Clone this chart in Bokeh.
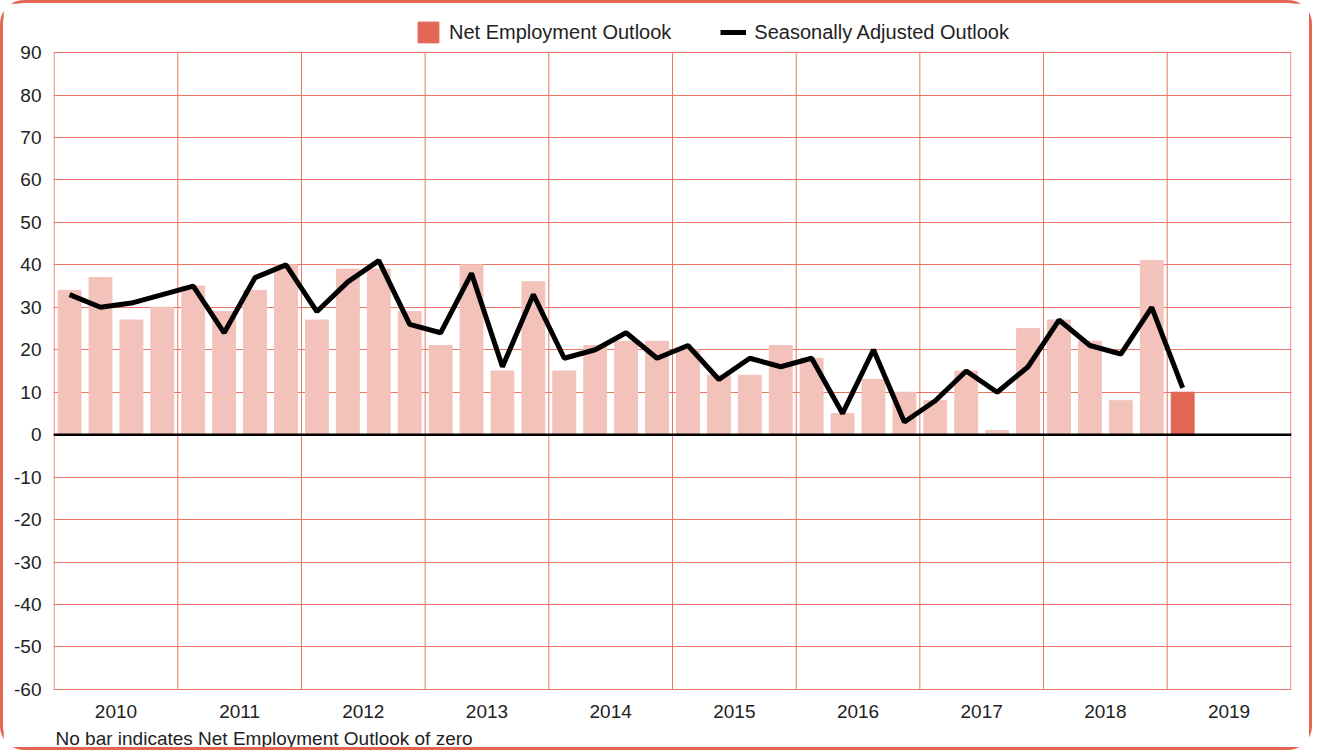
from bokeh.plotting import figure
from bokeh.models import (ColumnDataSource, FixedTicker, Legend, LegendItem, Span, Title,
                          Range1d)
from bokeh.embed import file_html
from bokeh.resources import INLINE

years = ["2010", "2011", "2012", "2013", "2014", "2015", "2016", "2017", "2018", "2019"]
quarters = [f"{y} Q{q}" for y in years for q in range(1, 5)][:37]

net_outlook = [34, 37, 27, 30,
               35, 29, 34, 40,
               27, 39, 39, 29,
               21, 40, 15, 36,
               15, 21, 22, 22,
               20, 14, 14, 21,
               18, 5, 13, 10,
               8, 15, 1, 25,
               27, 22, 8, 41,
               10]
seasonally_adjusted = [33, 30, 31, 33,
                       35, 24, 37, 40,
                       29, 36, 41, 26,
                       24, 38, 16, 33,
                       18, 20, 24, 18,
                       21, 13, 18, 16,
                       18, 5, 20, 3,
                       8, 15, 10, 16,
                       27, 21, 19, 30,
                       11]
y_ticks = list(range(-60, 100, 10))
y_min, y_max = -60, 90

GRID = "#EC7563"
LIGHT = "#F2C2BB"
DARK = "#E16654"
FONT = "Liberation Sans"
TXT = "#222222"
FS = "19px"

# layout (pixels)
plot_px = 636            # height of the -60..90 area
legend_px = 38           # extra space above 90 for the legend
px_per_unit = plot_px / (y_max - y_min)
n_slots = 4 * len(years)

xpos = [i + 0.5 for i in range(len(quarters))]
n_hist = len(quarters) - 1
year_edges = [4 * i for i in range(len(years) + 1)]

src_hist = ColumnDataSource(dict(x=xpos[:n_hist], top=net_outlook[:n_hist]))
src_last = ColumnDataSource(dict(x=xpos[n_hist:], top=net_outlook[n_hist:]))
src_line = ColumnDataSource(dict(x=xpos, y=seasonally_adjusted))
src_vgrid = ColumnDataSource(dict(x=year_edges, y0=[y_min] * len(year_edges),
                                  y1=[y_max] * len(year_edges)))

p = figure(width=1312, height=750, output_backend="svg", toolbar_location=None,
           x_range=Range1d(-0.02, n_slots + 0.02),
           y_range=Range1d(y_min - 0.25, y_max + legend_px / px_per_unit),
           min_border_left=50, min_border_right=24, min_border_top=11, min_border_bottom=52)
p.styles = {"border": "3px solid #E36651", "border-radius": "24px", "box-sizing": "border-box"}
p.outline_line_color = None

# vertical year separators limited to the -60..90 band
p.segment(x0="x", y0="y0", x1="x", y1="y1", source=src_vgrid, line_color=GRID, line_width=1)

p.vbar(x="x", top="top", bottom=0, width=0.74, source=src_hist, color=LIGHT)
r_last = p.vbar(x="x", top="top", bottom=0, width=0.74, source=src_last, color=DARK)
r_line = p.line(x="x", y="y", source=src_line, line_color="black", line_width=5)

p.add_layout(Span(location=0, dimension="width", line_color="black", line_width=2.5))

# axes
p.xaxis.ticker = FixedTicker(ticks=[4 * i + 2 for i in range(len(years))])
p.xaxis.major_label_overrides = {4 * i + 2: y for i, y in enumerate(years)}
p.yaxis.ticker = FixedTicker(ticks=y_ticks)
p.yaxis.major_label_overrides = {t: str(t) for t in y_ticks}
for ax in (p.xaxis[0], p.yaxis[0]):
    ax.axis_line_color = None
    ax.major_tick_line_color = None
    ax.minor_tick_line_color = None
    ax.major_label_text_font = FONT
    ax.major_label_text_font_size = FS
    ax.major_label_text_color = TXT
p.xaxis.major_label_standoff = 8
p.yaxis.major_tick_out = 0
p.yaxis.major_label_standoff = 12

# grids
p.xgrid.grid_line_color = None
p.ygrid.ticker = FixedTicker(ticks=y_ticks)
p.ygrid.grid_line_color = GRID
p.ygrid.grid_line_width = 1

legend = Legend(items=[LegendItem(label="Net Employment Outlook", renderers=[r_last]),
                       LegendItem(label="Seasonally Adjusted Outlook", renderers=[r_line])],
                orientation="horizontal", location=(362, plot_px + 9), padding=0, margin=0,
                border_line_color=None, background_fill_alpha=0,
                glyph_width=26, glyph_height=26, label_standoff=8, spacing=49,
                label_text_font=FONT, label_text_font_size="20px", label_text_color=TXT)
p.add_layout(legend, "center")

note = Title(text="No bar indicates Net Employment Outlook of zero", align="left",
             text_font=FONT, text_font_size=FS, text_font_style="normal",
             text_color=TXT, offset=2)
p.add_layout(note, "below")

open("out.html", "w").write(file_html(p, INLINE))
